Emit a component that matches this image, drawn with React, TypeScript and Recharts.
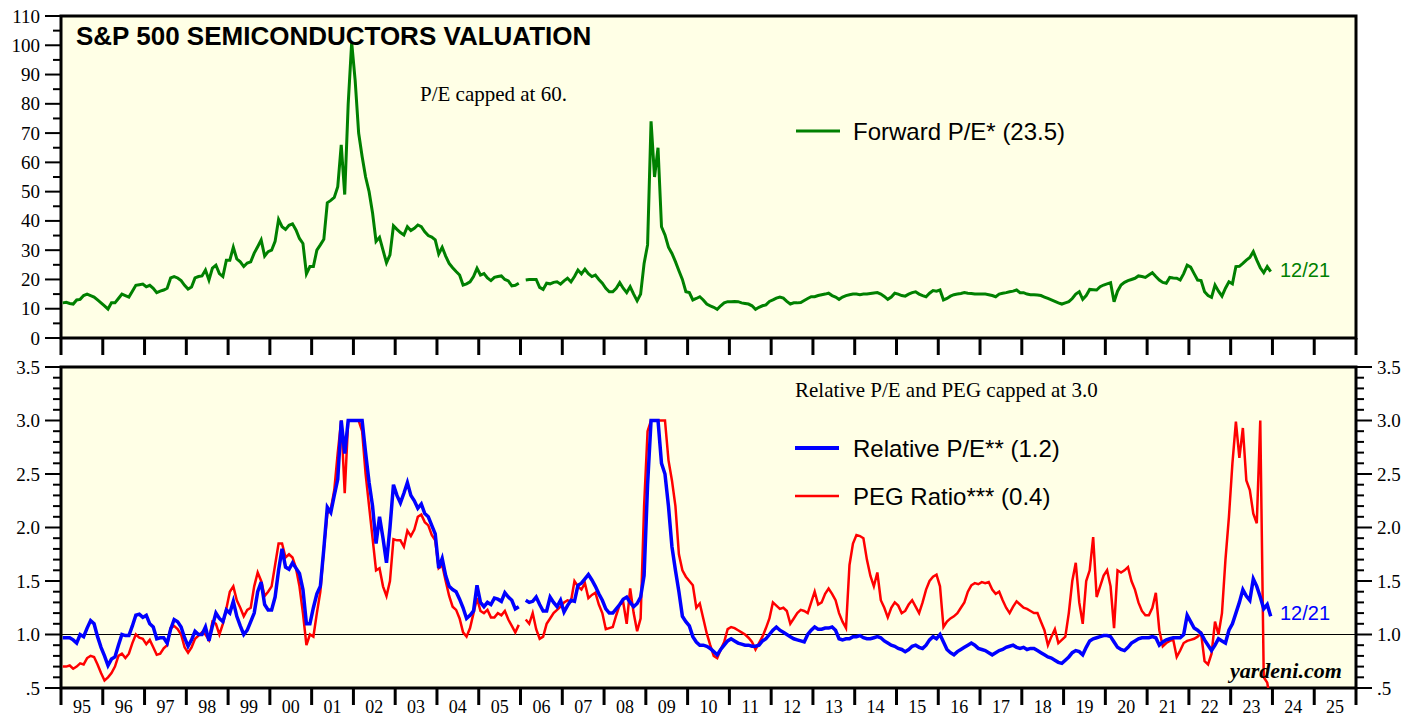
import React from 'react'
import { LineChart, Line, XAxis, YAxis, ReferenceArea, ReferenceLine } from 'recharts'

// one row of 12 monthly readings per year, 1995..2023
const years = [
  1995, 1996, 1997, 1998, 1999, 2000, 2001, 2002, 2003, 2004, 2005, 2006, 2007, 2008, 2009,
  2010, 2011, 2012, 2013, 2014, 2015, 2016, 2017, 2018, 2019, 2020, 2021, 2022, 2023,
]

const forwardPE: (number | null)[][] = [
  [12, 12.2, 11.8, 11.6, 13, 13.2, 14.5, 15, 14.5, 14, 13, 12],
  [11, 9.9, 12, 12, 13.5, 15, 14.5, 14, 16, 18, 18.2, 18.4],
  [17.5, 18, 17, 15.5, 16, 16.4, 17, 20.5, 21, 20.5, 19.6, 18],
  [16.7, 17.4, 20.5, 21, 21.2, 23.2, 19.8, 23.9, 24.9, 22, 21, 26.6],
  [26.6, 31, 27, 26, 24.4, 25.6, 26, 29, 31.2, 33.5, 28, 29.5],
  [30, 33, 40.5, 38, 37.1, 38.5, 39, 36.9, 34, 32.3, 21.9, 24.4],
  [24.4, 30, 31.8, 33.7, 46.2, 47, 48, 51.7, 66, 49, 80, 101],
  [88, 70, 62, 55, 50, 42.7, 33, 34.4, 30, 25.7, 28.4, 38.3],
  [37.1, 36, 35.2, 38, 36.7, 37.5, 38.6, 38, 36.3, 35, 34.5, 33.5],
  [28.7, 31, 28, 25.5, 24, 22.7, 21.5, 18.1, 18.5, 19.2, 21, 23.8],
  [21.5, 22, 20.5, 19.6, 20.7, 21, 21.2, 20, 19.5, 17.8, 18, 18.7],
  [null, 19.8, 20, 20, 20, 17.3, 16.6, 18.7, 18.5, 19, 19.2, 18.4],
  [19.5, 20.4, 19.2, 21, 23.2, 21.9, 23.5, 22, 21, 21.5, 20, 18.7],
  [17, 15.8, 15.8, 17, 18.9, 17, 15.5, 17.5, 15, 12.7, 15, 25.5],
  [31.8, 74, 55, 65, 38, 35.2, 31, 28.9, 26.1, 23, 20, 15.8],
  [15.5, 13, 13.5, 14.1, 13, 11.6, 11, 10.5, 9.8, 11, 12, 12.4],
  [12.4, 12.5, 12.4, 12, 11.8, 11.6, 11, 9.8, 10.5, 11, 11.3, 12.5],
  [13, 13.6, 14, 13.6, 12.5, 11.6, 12, 12, 12.1, 12.8, 13.5, 14.1],
  [14.1, 14.5, 14.8, 15, 15.3, 14.5, 14, 13.2, 14, 14.5, 14.8, 15],
  [15, 14.8, 15, 15, 15.2, 15.4, 15.5, 15, 14.2, 13.2, 14, 15.3],
  [15, 14.5, 14.3, 15, 15.5, 15.8, 15, 14.5, 14.1, 15.3, 16.2, 16],
  [16.4, 13, 13.5, 14.3, 14.8, 15, 15.2, 15.5, 15.3, 15.2, 15, 15],
  [15, 15, 14.8, 14.5, 14.1, 15, 15.3, 15.5, 15.8, 16, 16.4, 15.5],
  [15.5, 15, 14.8, 14.8, 14.7, 14.5, 14, 13.5, 13, 12.5, 12, 11.6],
  [12, 12.4, 13.5, 15, 15.8, 13.2, 14.5, 16.6, 16.5, 16.4, 17.5, 18.1],
  [18.5, 18.9, 12.4, 16, 18.1, 19, 19.6, 20, 20.4, 21.2, 21, 20.7],
  [21.5, 22.3, 21, 19.8, 19, 18.7, 20.7, 20.5, 20.4, 19.8, 22, 24.9],
  [24.2, 22, 19.8, 19.6, 15.8, 14.5, 13.9, 18.1, 16, 14.3, 17, 19.2],
  [18.5, 24.4, 24.5, 25.5, 26.6, 27.5, 29.5, 26.6, 24, 22.3, 24.4, 22.7],
]

const relativePE: (number | null)[][] = [
  [0.97, 0.97, 0.97, 0.95, 0.92, 1.0, 0.98, 1.06, 1.13, 1.1, 0.98, 0.88],
  [0.8, 0.71, 0.77, 0.79, 0.9, 1.0, 0.99, 0.99, 1.08, 1.18, 1.19, 1.16],
  [1.18, 1.1, 1.07, 0.96, 0.97, 0.97, 0.92, 1.05, 1.14, 1.12, 1.07, 0.97],
  [0.89, 0.95, 1.03, 1.0, 1.0, 1.07, 0.94, 1.08, 1.2, 1.15, 1.12, 1.23],
  [1.2, 1.31, 1.17, 1.08, 1.0, 1.04, 1.12, 1.2, 1.4, 1.49, 1.28, 1.23],
  [1.23, 1.35, 1.6, 1.8, 1.63, 1.61, 1.67, 1.62, 1.57, 1.42, 1.1, 1.1],
  [1.25, 1.38, 1.45, 1.8, 2.19, 2.14, 2.3, 2.45, 3.0, 2.69, 3.0, 3.0],
  [3.0, 3.0, 3.0, 2.7, 2.42, 2.2, 1.85, 2.1, 1.9, 1.67, 2.0, 2.4],
  [2.3, 2.23, 2.32, 2.42, 2.3, 2.25, 2.18, 2.22, 2.13, 2.1, 2.02, 1.94],
  [1.62, 1.71, 1.55, 1.45, 1.42, 1.4, 1.33, 1.25, 1.15, 1.18, 1.22, 1.46],
  [1.3, 1.26, 1.3, 1.28, 1.34, 1.33, 1.31, 1.39, 1.35, 1.32, 1.24, 1.26],
  [null, 1.32, 1.3, 1.31, 1.35, 1.28, 1.22, 1.22, 1.35, 1.3, 1.26, 1.32],
  [1.21, 1.27, 1.32, 1.31, 1.46, 1.48, 1.52, 1.56, 1.51, 1.45, 1.38, 1.32],
  [1.24, 1.2, 1.2, 1.24, 1.28, 1.33, 1.35, 1.3, 1.26, 1.29, 1.35, 1.55],
  [2.4, 3.0, 3.0, 3.0, 2.6, 2.5, 2.2, 1.82, 1.6, 1.4, 1.17, 1.12],
  [1.08, 0.98, 0.93, 0.9, 0.9, 0.89, 0.87, 0.84, 0.81, 0.86, 0.9, 0.94],
  [0.96, 0.94, 0.92, 0.91, 0.9, 0.9, 0.89, 0.89, 0.9, 0.94, 0.96, 1.0],
  [1.04, 1.07, 1.04, 1.02, 1.0, 0.98, 0.96, 0.95, 0.94, 0.93, 1.0, 1.04],
  [1.07, 1.05, 1.05, 1.06, 1.06, 1.07, 1.04, 0.96, 0.95, 0.96, 0.96, 0.98],
  [0.98, 0.99, 0.97, 0.96, 0.96, 0.97, 0.98, 0.97, 0.94, 0.92, 0.9, 0.89],
  [0.87, 0.86, 0.84, 0.86, 0.89, 0.9, 0.88, 0.87, 0.9, 0.95, 0.98, 0.96],
  [1.0, 0.93, 0.86, 0.83, 0.81, 0.84, 0.86, 0.88, 0.9, 0.92, 0.9, 0.87],
  [0.86, 0.85, 0.83, 0.81, 0.83, 0.85, 0.86, 0.88, 0.89, 0.9, 0.88, 0.87],
  [0.88, 0.86, 0.87, 0.87, 0.85, 0.83, 0.81, 0.79, 0.78, 0.76, 0.74, 0.73],
  [0.76, 0.79, 0.83, 0.85, 0.84, 0.81, 0.88, 0.94, 0.96, 0.97, 0.98, 0.99],
  [0.99, 0.98, 0.93, 0.88, 0.86, 0.85, 0.88, 0.92, 0.94, 0.96, 0.97, 0.97],
  [0.97, 0.98, 0.97, 0.9, 0.93, 0.95, 0.96, 0.97, 0.97, 0.97, 1.0, 1.18],
  [1.12, 1.06, 1.04, 1.01, 0.95, 0.9, 0.85, 0.9, 0.96, 0.94, 0.92, 1.04],
  [1.1, 1.2, 1.3, 1.42, 1.36, 1.32, 1.52, 1.45, 1.35, 1.24, 1.28, 1.17],
]

const pegRatio: (number | null)[][] = [
  [0.7, 0.7, 0.71, 0.68, 0.7, 0.73, 0.72, 0.78, 0.8, 0.79, 0.72, 0.64],
  [0.57, 0.6, 0.64, 0.7, 0.8, 0.82, 0.78, 0.82, 0.92, 1.0, 0.97, 0.96],
  [0.91, 0.95, 0.88, 0.81, 0.82, 0.87, 0.9, 1.06, 1.08, 1.05, 1.0, 0.88],
  [0.83, 0.88, 0.96, 0.99, 1.02, 1.0, 0.95, 1.12, 1.1, 1.0, 1.1, 1.24],
  [1.4, 1.45, 1.32, 1.25, 1.17, 1.23, 1.25, 1.45, 1.58, 1.5, 1.36, 1.4],
  [1.45, 1.65, 1.85, 1.85, 1.72, 1.75, 1.72, 1.62, 1.45, 1.2, 0.9, 1.0],
  [0.98, 1.2, 1.4, 1.8, 2.13, 2.17, 2.35, 2.7, 3.0, 2.32, 3.0, 3.0],
  [3.0, 3.0, 2.9, 2.5, 2.2, 1.9, 1.6, 1.62, 1.45, 1.36, 1.5, 1.89],
  [1.88, 1.88, 1.82, 1.97, 1.92, 1.98, 2.1, 2.12, 2.05, 2.02, 1.93, 1.88],
  [1.62, 1.65, 1.5, 1.36, 1.26, 1.23, 1.15, 1.02, 0.98, 1.06, 1.2, 1.34],
  [1.22, 1.2, 1.23, 1.16, 1.16, 1.2, 1.18, 1.22, 1.14, 1.08, 1.02, 1.09],
  [null, 1.14, 1.1, 1.2, 1.05, 0.96, 0.98, 1.1, 1.15, 1.2, 1.23, 1.26],
  [1.3, 1.32, 1.31, 1.5, 1.45, 1.42, 1.48, 1.34, 1.37, 1.39, 1.28, 1.2],
  [1.05, 1.06, 1.07, 1.18, 1.28, 1.3, 1.1, 1.43, 1.2, 1.03, 1.15, 2.2],
  [2.9, 3.0, 3.0, 3.0, 3.0, 3.0, 2.63, 2.44, 2.2, 1.75, 1.6, 1.54],
  [1.5, 1.46, 1.25, 1.29, 1.15, 1.01, 0.9, 0.8, 0.78, 0.86, 0.93, 1.05],
  [1.07, 1.06, 1.04, 1.02, 1.0, 0.97, 0.93, 0.86, 0.92, 0.98, 1.06, 1.15],
  [1.3, 1.27, 1.24, 1.25, 1.22, 1.1, 1.15, 1.2, 1.23, 1.22, 1.2, 1.3],
  [1.4, 1.28, 1.3, 1.38, 1.43, 1.38, 1.32, 1.2, 1.12, 1.06, 1.65, 1.85],
  [1.93, 1.92, 1.9, 1.7, 1.55, 1.45, 1.58, 1.32, 1.25, 1.16, 1.25, 1.3],
  [1.27, 1.2, 1.22, 1.28, 1.32, 1.26, 1.2, 1.3, 1.42, 1.5, 1.54, 1.56],
  [1.45, 1.07, 1.12, 1.15, 1.17, 1.2, 1.25, 1.3, 1.4, 1.46, 1.48, 1.47],
  [1.49, 1.48, 1.49, 1.42, 1.38, 1.4, 1.32, 1.25, 1.2, 1.26, 1.31, 1.28],
  [1.25, 1.24, 1.22, 1.2, 1.2, 1.12, 1.04, 0.9, 0.98, 1.05, 0.92, 0.95],
  [0.98, 1.2, 1.5, 1.67, 1.3, 1.1, 1.5, 1.6, 1.91, 1.35, 1.45, 1.55],
  [1.6, 1.45, 1.06, 1.6, 1.58, 1.6, 1.63, 1.5, 1.42, 1.3, 1.22, 1.18],
  [1.18, 1.25, 1.39, 1.04, 0.89, 0.92, 0.94, 0.95, 0.79, 0.85, 0.92, 0.94],
  [0.95, 0.96, 0.98, 1.01, 0.75, 0.72, 0.82, 1.12, 1.0, 1.2, 1.7, 2.1],
  [2.6, 2.99, 2.65, 2.93, 2.44, 2.35, 2.13, 2.04, 3.0, 0.6, 0.55, 0.36],
]

const xYearTicks = Array.from({ length: 32 }, (_, i) => 1995 + i)
const xTicksWithLabels = xYearTicks.flatMap((y) => (y < 2026 ? [y, y + 0.5] : [y]))
const peTicks = Array.from({ length: 23 }, (_, i) => i * 5)
const ratioTicks = Array.from({ length: 31 }, (_, i) => (i + 5) / 10)

const BG = '#FFFFE6'
const SERIF = '"Liberation Serif", "Times New Roman", serif'
const SANS = '"Liberation Sans", Arial, sans-serif'

const rows = years.flatMap((yr, yi) =>
  forwardPE[yi].map((_, m) => ({
    t: yr + (m + 0.5) / 12,
    pe: forwardPE[yi][m],
    rel: relativePE[yi][m],
    peg: pegRatio[yi][m],
  }))
)

function yTick(side: 'left' | 'right', isMajor: (v: number) => boolean, fmt: (v: number) => string) {
  return (props: any) => {
    const { x, y, payload } = props
    const v = payload.value
    const major = isMajor(v)
    const len = major ? 16 : 8
    const dir = side === 'left' ? -1 : 1
    return (
      <g>
        <line x1={x} x2={x + dir * len} y1={y} y2={y} stroke="#000" strokeWidth={2} />
        {major && (
          <text
            x={x + dir * 21}
            y={y + 6.5}
            textAnchor={side === 'left' ? 'end' : 'start'}
            fontFamily={SERIF}
            fontSize={19}
            fill="#000"
          >
            {fmt(v)}
          </text>
        )}
      </g>
    )
  }
}

const peMajor = (v: number) => v % 10 === 0
const ratioMajor = (v: number) => Math.round(v * 10) % 5 === 0
const ratioFmt = (v: number) => (v === 0.5 ? '.5' : v.toFixed(1))

function TopXTick(props: any) {
  const { x, y } = props
  return <line x1={x} x2={x} y1={y} y2={y + 17} stroke="#000" strokeWidth={3} />
}

function BottomXTick(props: any) {
  const { x, y, payload } = props
  const v = payload.value
  if (Number.isInteger(v)) {
    return <line x1={x} x2={x} y1={y} y2={y + 17} stroke="#000" strokeWidth={3} />
  }
  return (
    <text x={x} y={y + 25} textAnchor="middle" fontFamily={SERIF} fontSize={18} fill="#000">
      {String(Math.floor(v) % 100).padStart(2, '0')}
    </text>
  )
}

export default function App() {
  return (
    <div
      style={{
        position: 'absolute',
        left: 0,
        top: 0,
        width: 1425,
        height: 717,
        background: '#fff',
        overflow: 'hidden',
      }}
    >
      <div style={{ position: 'absolute', left: 0, top: 0 }}>
        <LineChart width={1425} height={360} data={rows} margin={{ top: 16, right: 0, bottom: 0, left: 0 }}>
          <XAxis
            dataKey="t"
            type="number"
            domain={[1995, 2026]}
            ticks={xYearTicks}
            interval={0}
            height={22}
            tickSize={0}
            tickMargin={0}
            axisLine={false}
            tickLine={false}
            tick={TopXTick}
          />
          <YAxis
            yAxisId="l"
            orientation="left"
            width={61}
            domain={[0, 110]}
            ticks={peTicks}
            interval={0}
            tickSize={0}
            tickMargin={0}
            axisLine={false}
            tickLine={false}
            tick={yTick('left', peMajor, String)}
          />
          <YAxis
            yAxisId="r"
            orientation="right"
            width={69}
            domain={[0, 110]}
            ticks={peTicks}
            interval={0}
            tickSize={0}
            tickMargin={0}
            axisLine={false}
            tickLine={false}
            tick={yTick('right', peMajor, String)}
          />
          <ReferenceArea
            yAxisId="l"
            x1={1995}
            x2={2026}
            y1={0}
            y2={110}
            fill={BG}
            fillOpacity={1}
            stroke="#000"
            strokeWidth={3}
          />
          <Line
            yAxisId="l"
            dataKey="pe"
            type="linear"
            stroke="#008000"
            strokeWidth={3}
            dot={false}
            isAnimationActive={false}
          />
        </LineChart>
      </div>

      <div style={{ position: 'absolute', left: 0, top: 350 }}>
        <LineChart width={1425} height={367} data={rows} margin={{ top: 17, right: 0, bottom: 0, left: 0 }}>
          <XAxis
            dataKey="t"
            type="number"
            domain={[1995, 2026]}
            ticks={xTicksWithLabels}
            interval={0}
            height={29}
            tickSize={0}
            tickMargin={0}
            axisLine={false}
            tickLine={false}
            tick={BottomXTick}
          />
          <YAxis
            yAxisId="l"
            orientation="left"
            width={61}
            domain={[0.5, 3.5]}
            allowDataOverflow
            ticks={ratioTicks}
            interval={0}
            tickSize={0}
            tickMargin={0}
            axisLine={false}
            tickLine={false}
            tick={yTick('left', ratioMajor, ratioFmt)}
          />
          <YAxis
            yAxisId="r"
            orientation="right"
            width={69}
            domain={[0.5, 3.5]}
            allowDataOverflow
            ticks={ratioTicks}
            interval={0}
            tickSize={0}
            tickMargin={0}
            axisLine={false}
            tickLine={false}
            tick={yTick('right', ratioMajor, ratioFmt)}
          />
          <ReferenceArea
            yAxisId="l"
            x1={1995}
            x2={2026}
            y1={0.5}
            y2={3.5}
            fill={BG}
            fillOpacity={1}
            stroke="#000"
            strokeWidth={3}
          />
          <ReferenceLine yAxisId="l" y={1} stroke="#000" strokeWidth={1} />
          <Line
            yAxisId="l"
            dataKey="peg"
            type="linear"
            stroke="#FF0000"
            strokeWidth={2.5}
            dot={false}
            isAnimationActive={false}
          />
          <Line
            yAxisId="l"
            dataKey="rel"
            type="linear"
            stroke="#0000FF"
            strokeWidth={3.5}
            dot={false}
            isAnimationActive={false}
          />
        </LineChart>
      </div>

      <svg
        width={1425}
        height={717}
        style={{ position: 'absolute', left: 0, top: 0, pointerEvents: 'none' }}
      >
        <text x={76} y={45} fontFamily={SANS} fontWeight="bold" fontSize={26} fill="#000">
          S&amp;P 500 SEMICONDUCTORS VALUATION
        </text>
        <text x={420} y={101} fontFamily={SERIF} fontSize={21} fill="#000">
          P/E capped at 60.
        </text>
        <line x1={796} x2={840} y1={131} y2={131} stroke="#008000" strokeWidth={3} />
        <text x={853} y={139.5} fontFamily={SANS} fontSize={24} fill="#000">
          Forward P/E* (23.5)
        </text>
        <text x={1280} y={277} fontFamily={SANS} fontSize={20} fill="#008000">
          12/21
        </text>

        <text x={795} y={397} fontFamily={SERIF} fontSize={21} fill="#000">
          Relative P/E and PEG capped at 3.0
        </text>
        <line x1={795} x2={839} y1={448} y2={448} stroke="#0000FF" strokeWidth={4} />
        <text x={853} y={456.5} fontFamily={SANS} fontSize={24} fill="#000">
          Relative P/E** (1.2)
        </text>
        <line x1={795} x2={839} y1={496} y2={496} stroke="#FF0000" strokeWidth={2.5} />
        <text x={853} y={504.5} fontFamily={SANS} fontSize={24} fill="#000">
          PEG Ratio*** (0.4)
        </text>
        <text x={1280} y={620} fontFamily={SANS} fontSize={20} fill="#0000FF">
          12/21
        </text>
        <text
          x={1230}
          y={678}
          fontFamily={SERIF}
          fontWeight="bold"
          fontStyle="italic"
          fontSize={22}
          fill="#000"
        >
          yardeni.com
        </text>
      </svg>
    </div>
  )
}
